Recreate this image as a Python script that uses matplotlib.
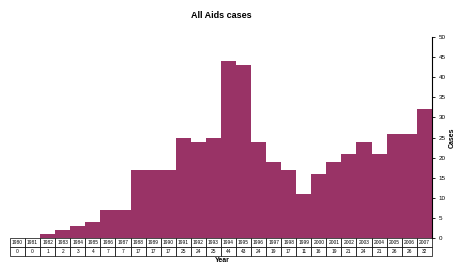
import matplotlib
matplotlib.use('Agg')
import matplotlib.pyplot as plt

plt.rcParams['font.family'] = ['Liberation Sans', 'DejaVu Sans']

years = [str(y) for y in range(1980, 2008)]
cases = [0, 0, 1, 2, 3, 4, 7, 7, 17, 17, 17, 25, 24, 25, 44, 43, 24, 19, 17, 11,
         16, 19, 21, 24, 21, 26, 26, 32]

fig = plt.figure(figsize=(4.55, 2.65), dpi=100)
ax = fig.add_axes([0.022, 0.102, 0.927, 0.758])

x = [i + 0.5 for i in range(len(years))]
ax.bar(x, cases, width=1.0, color='#993366', edgecolor='none')
ax.set_xlim(0, len(years))
ax.set_ylim(0, 50)
ax.set_yticks(range(0, 55, 5))
ax.yaxis.tick_right()
ax.yaxis.set_label_position('right')
ax.tick_params(axis='y', labelsize=4.5, length=2, width=0.6, pad=3)
ax.set_xticks([])
for s in ['left', 'top', 'bottom']:
    ax.spines[s].set_visible(False)
ax.spines['right'].set_linewidth(0.8)
ax.set_ylabel('Cases', fontsize=5, fontweight='bold', labelpad=2)
ax.set_title('All Aids cases', fontsize=6.5, fontweight='bold', pad=14)

tbl = ax.table(cellText=[years, [str(c) for c in cases]],
               cellLoc='center', bbox=[0, -0.09, 1, 0.09])
tbl.auto_set_font_size(False)
tbl.set_fontsize(3.5)
for cell in tbl.get_celld().values():
    cell.set_linewidth(0.5)

fig.text(0.488, 0.002, 'Year', fontsize=5, fontweight='bold', ha='center', va='bottom')

fig.savefig('out.png', dpi=100)
